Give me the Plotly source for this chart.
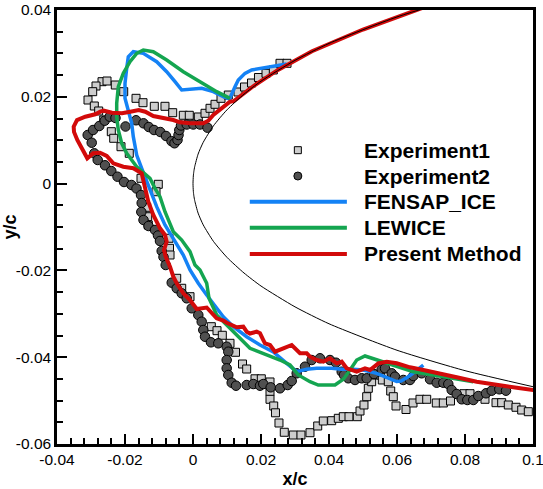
import plotly.graph_objects as go

# ---- Experiment 1 (squares) ----
exp1_x = [-0.02676, -0.02529, -0.02853, -0.0295, -0.03088, -0.02903, -0.02774, -0.02626,
          -0.02403, -0.02332, -0.02285, -0.02038, -0.01676, -0.01471, -0.01138, -0.00824,
          -0.00597, -0.00285, -0.00109, 0.00156, 0.00353, 0.005, 0.00647, 0.00824, 0.01038,
          0.01324, 0.01515, 0.01721, 0.01926, 0.02147, 0.02362, 0.02559, 0.02765,
          -0.02118, -0.01874, -0.01529, -0.01021, -0.01088, -0.01362, -0.01332, -0.01315,
          -0.00706, -0.00691, -0.00676, -0.00479, -0.00332, -0.00088, 0.00538, 0.00706,
          0.00862, 0.01088, 0.0125, 0.01456, 0.01579, 0.01824, 0.02009, 0.02265, 0.02265,
          0.02265, 0.02374, 0.02426, 0.02529, 0.02685, 0.0295, 0.03176, 0.03441, 0.03668,
          0.03832, 0.04079, 0.04274, 0.04421, 0.04588, 0.04832, 0.04912, 0.05029, 0.05109,
          0.05156, 0.05256, 0.05382, 0.05521, 0.05568, 0.05744, 0.05815, 0.05891, 0.05971,
          0.06265, 0.06471, 0.06676, 0.06874, 0.07156, 0.07362, 0.07574, 0.07971, 0.08147,
          0.08588, 0.08912, 0.09079, 0.09274, 0.095, 0.09668, 0.09862]
exp1_y = [0.02348, 0.02364, 0.02249, 0.02118, 0.01926, 0.01788, 0.01673, 0.01465,
          0.01196, 0.01044, 0.02272, 0.02118, 0.01965, 0.01864, 0.01781, 0.01781,
          0.01634, 0.01574, 0.01574, 0.01535, 0.0162, 0.01735, 0.01827, 0.01965, 0.02041,
          0.02111, 0.02226, 0.02318, 0.02445, 0.02541, 0.02618, 0.02772, 0.02772,
          0.0085, 0.00698, 0.00122, -0.00016, -0.00187, -0.00546, -0.00763, -0.00954,
          -0.0126, -0.01491, -0.01645, -0.02182, -0.02412, -0.02606, -0.03297, -0.03389,
          -0.03495, -0.0368, -0.03887, -0.04157, -0.04272, -0.04498, -0.04498, -0.04571, -0.04795,
          -0.0497, -0.05124, -0.05281, -0.05516, -0.0573, -0.05793, -0.05793, -0.0574, -0.05585,
          -0.0547, -0.05463, -0.05408, -0.05371, -0.05371, -0.05371, -0.0524, -0.05101, -0.0491,
          -0.04717, -0.04565, -0.0441, -0.0441, -0.04525, -0.04565, -0.04779, -0.0491, -0.05124,
          -0.05205, -0.05055, -0.0497, -0.0497, -0.05055, -0.05055, -0.05009, -0.04841, -0.04841,
          -0.0497, -0.05048, -0.05048, -0.05101, -0.05154, -0.05217, -0.05256]

# ---- Experiment 2 (circles) ----
exp2_x = [-0.03097, -0.02979, -0.0294, -0.02756, -0.02597, -0.0245, -0.0228, -0.01985,
          -0.01676, -0.01456, -0.013, -0.01147, -0.00962, -0.00794, -0.00632, -0.00544,
          -0.00456, -0.00426, -0.00403, -0.00353, -0.00185, 0.00009, 0.00206, 0.00426,
          -0.02903, -0.02803, -0.02588, -0.02403, -0.02221, -0.02029, -0.01809, -0.01662,
          -0.01529, -0.01509, -0.0152, -0.01456, -0.01309, -0.01118, -0.01029, -0.00971,
          -0.00921, -0.00868, -0.00803, -0.00626, -0.00479, -0.00332, -0.00185, -0.00038,
          0.00156, 0.00256, 0.00303, 0.00353, 0.00529, 0.00744, 0.00991, 0.01038, 0.00991,
          0.00991, 0.01038, 0.01138, 0.01265, 0.01579, 0.01774, 0.01971, 0.02068, 0.02285,
          0.02559, 0.02785, 0.02903, 0.0305, 0.03294, 0.03491, 0.03735, 0.04029, 0.04206,
          0.04374, 0.04441, 0.04568, 0.04765, 0.04962, 0.05109, 0.05324, 0.0555, 0.05647,
          0.05844, 0.05941, 0.06185, 0.06382, 0.06479, 0.06726, 0.06971, 0.07168, 0.07362,
          0.07509, 0.07609, 0.07756, 0.07903, 0.08068, 0.08244, 0.08391, 0.08618, 0.08785,
          0.09009, 0.09206]
exp2_y = [0.0112, 0.00942, 0.01235, 0.01327, 0.01449, 0.01541, 0.01512, 0.01316,
          0.01459, 0.01389, 0.01304, 0.01235, 0.01189, 0.01097, 0.00977, 0.00929,
          0.01005, 0.0112, 0.01235, 0.01339, 0.01362, 0.01362, 0.01362, 0.01288,
          0.00698, 0.00544, 0.00422, 0.0029, 0.00159, 0.00037, -0.00032, -0.00113,
          -0.00263, -0.00447, -0.00654, -0.00839, -0.00977, -0.01069, -0.01196, -0.01323,
          -0.01553, -0.01691, -0.01876, -0.02283, -0.02412, -0.02528, -0.02643, -0.02873,
          -0.03028, -0.03182, -0.03373, -0.03528, -0.03657, -0.0368, -0.03758, -0.03873, -0.04065,
          -0.04256, -0.0441, -0.04588, -0.04657, -0.04641, -0.04618, -0.04657, -0.04618, -0.04694,
          -0.04717, -0.04641, -0.04548, -0.04371, -0.04219, -0.04065, -0.04025, -0.04065, -0.04127,
          -0.04334, -0.0441, -0.04486, -0.04525, -0.04486, -0.04486, -0.04387, -0.04279, -0.04256,
          -0.04371, -0.04449, -0.04525, -0.04525, -0.04433, -0.04371, -0.04509, -0.04588, -0.04588,
          -0.04618, -0.04756, -0.04848, -0.0497, -0.04986, -0.04986, -0.04894, -0.04832, -0.04772,
          -0.0474, -0.04772]

# ---- FENSAP-ICE ice shape ----
fensap_x = [0.02756, 0.02462, 0.02021, 0.01726, 0.01529, 0.01332, 0.01235, 0.01138, 0.01074,
            0.00891, 0.00597, 0.00256, -0.00088, -0.00332, -0.00529, -0.00774, -0.01068,
            -0.01462, -0.01756, -0.01903, -0.0195, -0.02, -0.02, -0.01903, -0.01803, -0.01756,
            -0.01706, -0.01656, -0.01509, -0.01315, -0.01068, -0.00824, -0.00529, -0.00285,
            -0.00088, 0.00156, 0.00403, 0.00697, 0.00891, 0.01185, 0.01579, 0.01971, 0.02362,
            0.02756, 0.0305, 0.03344, 0.03638, 0.04079, 0.04374, 0.04715, 0.05009, 0.05403,
            0.05794, 0.05991, 0.06118, 0.06332, 0.06529, 0.06774]
fensap_y = [0.02756, 0.02717, 0.0267, 0.02618, 0.02541, 0.02387, 0.02233, 0.02081, 0.01949,
            0.02002, 0.02118, 0.02196, 0.02173, 0.02157, 0.02348, 0.02578, 0.02809,
            0.03002, 0.03039, 0.02924, 0.02657, 0.02311, 0.01965, 0.01657, 0.01389, 0.01081,
            0.0085, 0.00659, 0.00353, -0.00032, -0.00532, -0.00954, -0.01339, -0.01645,
            -0.01991, -0.02297, -0.02567, -0.02873, -0.03067, -0.03297, -0.03528, -0.03719, -0.0388,
            -0.04141, -0.04334, -0.04279, -0.04256, -0.04256, -0.04279, -0.04279, -0.04295, -0.04371,
            -0.04486, -0.0456, -0.04548, -0.04449, -0.04334, -0.0418]

# ---- LEWICE ice shape ----
lewice_x = [0.01088, 0.00697, 0.00206, -0.00285, -0.00774, -0.01168, -0.01462, -0.01656,
            -0.01853, -0.0205, -0.02197, -0.02244, -0.02244, -0.02197, -0.02097, -0.0195,
            -0.01656, -0.01265, -0.01118, -0.00971, -0.00824, -0.00579, -0.00332, -0.00088,
            0.00059, 0.00206, 0.00403, 0.00471, 0.00697, 0.00991, 0.01382, 0.01676, 0.02168,
            0.02559, 0.02853, 0.03097, 0.03441, 0.03685, 0.04176, 0.04421, 0.04618, 0.04815,
            0.05059, 0.05353, 0.05597, 0.05991, 0.06479, 0.07068, 0.07656, 0.08244]
lewice_y = [0.01965, 0.02118, 0.02348, 0.02578, 0.02848, 0.03039, 0.03078, 0.03002,
            0.02809, 0.02541, 0.02233, 0.0185, 0.01541, 0.01235, 0.00929, 0.00698,
            0.00389, 0.00122, -0.00108, -0.00302, -0.00647, -0.01108, -0.013, -0.01569,
            -0.01876, -0.01991, -0.02297, -0.02643, -0.03028, -0.03258, -0.03565, -0.03795, -0.03949,
            -0.04065, -0.0418, -0.0441, -0.04565, -0.04641, -0.04641, -0.04509, -0.04295, -0.04065,
            -0.03972, -0.04048, -0.04104, -0.04219, -0.04334, -0.0441, -0.04486, -0.04565]

# ---- Present method ice shape ----
present_x = [0.07, 0.05, 0.035, 0.025, 0.018, 0.012, 0.01088, 0.00844, 0.00597, 0.0045,
             0.00303, -0.00088, -0.00382, -0.00579, -0.00874, -0.01168, -0.01403, -0.01597,
             -0.01844, -0.02088, -0.02382, -0.02626, -0.02726, -0.02874, -0.03168, -0.03412,
             -0.03509, -0.035, -0.03403, -0.03274, -0.03109, -0.02932, -0.02735, -0.02538,
             -0.02344, -0.0205, -0.01756, -0.01509, -0.01412, -0.01315, -0.01168, -0.00971,
             -0.00824, -0.00774, -0.00853, -0.00803, -0.00676, -0.00579, -0.00479, -0.00382,
             -0.00285, -0.00088, 0.00109, 0.00403, 0.0055, 0.00697, 0.00891, 0.00991, 0.01285,
             0.01479, 0.01579, 0.01676, 0.01874, 0.01971, 0.02068, 0.02118, 0.02265, 0.02412,
             0.02656, 0.02903, 0.03147, 0.03344, 0.03441, 0.03638, 0.03832, 0.04029, 0.04226,
             0.04374, 0.04521, 0.04815, 0.05059, 0.05206, 0.0545, 0.05697, 0.05991, 0.06382,
             0.06774, 0.07265, 0.07756, 0.08344, 0.08932, 0.09521, 0.10009]
present_y = [0.0412, 0.0355, 0.0305, 0.0262, 0.0226, 0.0190, 0.01887, 0.01735, 0.01581, 0.01449,
             0.01389, 0.01389, 0.01412, 0.01465, 0.01505, 0.01558, 0.01657, 0.01696,
             0.01657, 0.0162, 0.01634, 0.0168, 0.01657, 0.01597, 0.01541, 0.01465,
             0.01311, 0.01191, 0.01005, 0.00813, 0.00583, 0.00698, 0.00712, 0.00636,
             0.00468, 0.00389, 0.00353, 0.00237, -0.00108, -0.00417, -0.00724, -0.0103,
             -0.01184, -0.01339, -0.0153, -0.01684, -0.01915, -0.02145, -0.02297, -0.02412,
             -0.02528, -0.02682, -0.02889, -0.02855, -0.02988, -0.03104, -0.03154, -0.03205, -0.03311,
             -0.03297, -0.03412, -0.03454, -0.03412, -0.03449, -0.03604, -0.0368, -0.03719, -0.03873,
             -0.03795, -0.03719, -0.0391, -0.0391, -0.03988, -0.04065, -0.04104, -0.04025, -0.04141,
             -0.04104, -0.04256, -0.04334, -0.04256, -0.04295, -0.04141, -0.04104, -0.04141, -0.04233,
             -0.04295, -0.04371, -0.04463, -0.04565, -0.04641, -0.04703, -0.04756]

# ---- Clean airfoil leading edge (NACA 0012 ordinates) ----
airfoil_x = [0.1, 0.08, 0.06, 0.04, 0.03, 0.02, 0.015, 0.01, 0.006, 0.003, 0.0015, 0.0005,
             0.00025, 0.0001, 0.0, 0.0001, 0.00025, 0.0005, 0.0015, 0.003, 0.006, 0.01,
             0.015, 0.02, 0.03, 0.04, 0.06, 0.08, 0.1]
airfoil_y = [0.0468, 0.0431, 0.0384, 0.0323, 0.0284, 0.0236, 0.0206, 0.0170, 0.0133, 0.0095,
             0.0068, 0.0039, 0.0028, 0.00177, 0.0, -0.00177, -0.0028, -0.0039, -0.0068, -0.0095,
             -0.0133, -0.0170, -0.0206, -0.0236, -0.0284, -0.0323, -0.0384, -0.0431, -0.0468]

x_ticks = [-0.04, -0.02, 0, 0.02, 0.04, 0.06, 0.08, 0.1]
x_ticklabels = ["-0.04", "-0.02", "0", "0.02", "0.04", "0.06", "0.08", "0.1"]
y_ticks = [-0.06, -0.04, -0.02, 0, 0.02, 0.04]
y_ticklabels = ["-0.06", "-0.04", "-0.02", "0", "0.02", "0.04"]

legend_labels = ["Experiment1", "Experiment2", "FENSAP_ICE", "LEWICE", "Present Method"]

FONT = "Liberation Sans, Arial, sans-serif"
SQUARE_FILL = "rgb(205,205,205)"
CIRCLE_FILL = "rgb(80,80,80)"
BLUE = "rgb(20,130,245)"
GREEN = "rgb(20,165,80)"
RED = "rgb(210,10,10)"

fig = go.Figure()
fig.add_trace(go.Scatter(x=exp1_x, y=exp1_y, mode="markers", name=legend_labels[0],
                         marker=dict(symbol="square", size=8, color=SQUARE_FILL,
                                     line=dict(color="black", width=1))))
fig.add_trace(go.Scatter(x=exp2_x, y=exp2_y, mode="markers", name=legend_labels[1],
                         marker=dict(symbol="circle", size=9.5, color=CIRCLE_FILL,
                                     line=dict(color="black", width=1))))
fig.add_trace(go.Scatter(x=fensap_x, y=fensap_y, mode="lines", name=legend_labels[2],
                         line=dict(color=BLUE, width=3.5)))
fig.add_trace(go.Scatter(x=lewice_x, y=lewice_y, mode="lines", name=legend_labels[3],
                         line=dict(color=GREEN, width=3.5)))
fig.add_trace(go.Scatter(x=present_x, y=present_y, mode="lines", name=legend_labels[4],
                         line=dict(color=RED, width=4)))
fig.add_trace(go.Scatter(x=airfoil_x, y=airfoil_y, mode="lines", name="airfoil",
                         line=dict(color="black", width=1, shape="spline", smoothing=0.6),
                         hoverinfo="skip"))

axis_common = dict(
    showgrid=False, zeroline=False, showline=True, linecolor="black", linewidth=2.5,
    mirror=True, ticks="inside", ticklen=10, tickwidth=2, tickcolor="black",
    automargin=False, ticklabeloverflow="allow",
    tickfont=dict(family=FONT, size=15.5, color="black"),
)

fig.update_xaxes(
    range=[-0.04, 0.100001], tickvals=x_ticks, ticktext=x_ticklabels,
    minor=dict(ticks="inside", ticklen=6, tickwidth=1.5, tickcolor="black", dtick=0.004,
               tick0=-0.04),
    title=dict(text="<b>x/c</b>", font=dict(family=FONT, size=18, color="black"), standoff=6),
    **axis_common,
)
fig.update_yaxes(
    range=[-0.060001, 0.040001], tickvals=y_ticks, ticktext=y_ticklabels,
    minor=dict(ticks="inside", ticklen=6, tickwidth=1.5, tickcolor="black", dtick=0.005,
               tick0=-0.06),
    title=dict(text="<b>y/c</b>", font=dict(family=FONT, size=18, color="black"), standoff=4),
    **axis_common,
)

# Legend block drawn in paper coordinates: symbols + bold labels
leg_text_x = 0.641
leg_sym_x = 0.506
leg_line_x0, leg_line_x1 = 0.405, 0.609
leg_rows = [0.677, 0.6175, 0.558, 0.498, 0.438]
shapes = [
    dict(type="rect", xref="paper", yref="paper", xsizemode="pixel", ysizemode="pixel",
         xanchor=leg_sym_x, yanchor=leg_rows[0], x0=-3.5, x1=3.5, y0=-3.5, y1=3.5,
         fillcolor=SQUARE_FILL, line=dict(color="black", width=1)),
    dict(type="circle", xref="paper", yref="paper", xsizemode="pixel", ysizemode="pixel",
         xanchor=leg_sym_x, yanchor=leg_rows[1], x0=-4, x1=4, y0=-4, y1=4,
         fillcolor=CIRCLE_FILL, line=dict(color="black", width=1)),
]
for row, color in zip(leg_rows[2:], [BLUE, GREEN, RED]):
    shapes.append(dict(type="line", xref="paper", yref="paper", x0=leg_line_x0,
                       x1=leg_line_x1, y0=row, y1=row, line=dict(color=color, width=4)))
annotations = [
    dict(text=f"<b>{label}</b>", xref="paper", yref="paper", x=leg_text_x, y=row,
         xanchor="left", yanchor="middle", showarrow=False,
         font=dict(family=FONT, size=21, color="black"))
    for label, row in zip(legend_labels, leg_rows)
]

fig.update_layout(
    width=543, height=489,
    margin=dict(l=57, r=10, t=10, b=45),
    paper_bgcolor="white", plot_bgcolor="white",
    showlegend=False,
    shapes=shapes, annotations=annotations,
)

fig.write_html("out.html")
